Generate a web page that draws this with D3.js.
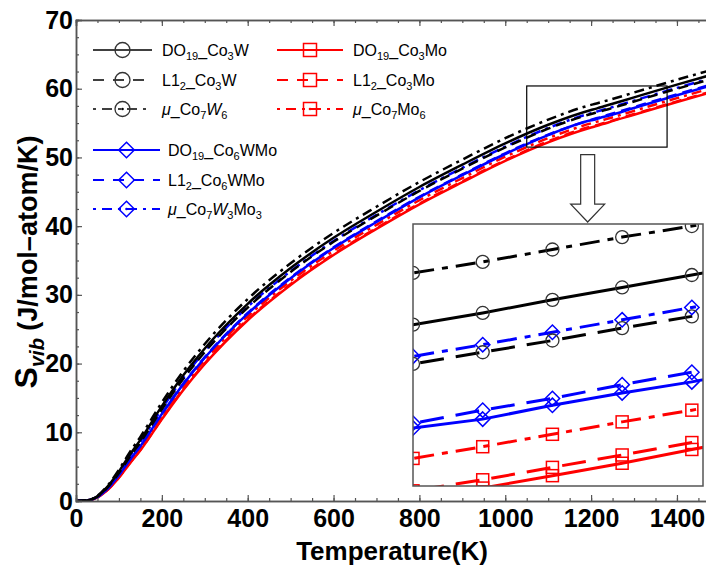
<!DOCTYPE html>
<html lang="en">
<head>
<meta charset="UTF-8"/>
<title>Svib vs Temperature</title>
<script src="https://d3js.org/d3.v7.min.js"></script>
<style>
    body { margin: 0; background: white; }
    text { font-family: "Liberation Sans", Arial, sans-serif; }
</style>
</head>
<body>
<script>
// temperatures (K) and vibrational entropy (J/mol-atom/K)
var temps = [0, 25, 50, 75, 100, 125, 150, 200, 250, 300, 400, 500, 600, 700, 800, 900, 1000, 1100,
             1200, 1210, 1220, 1230, 1240, 1300, 1400, 1470];

var DO19_Co3W   = [0, 0.08, 0.7, 2.2, 4.3, 6.7, 8.9, 13.8, 18.3, 22.2, 28.7, 33.9, 38.3, 42.1, 45.7, 48.95, 52.05, 54.75,
                   56.90, 57.07, 57.26, 57.44, 57.62, 58.74, 60.59, 61.84];
var L12_Co3W    = [0, 0.08, 0.66, 2.08, 4.09, 6.41, 8.55, 13.36, 17.80, 21.67, 28.15, 33.33, 37.72, 41.52, 45.12, 48.36, 51.45, 54.18,
                   56.33, 56.50, 56.67, 56.85, 57.02, 58.14, 59.99, 61.24];
var mu_Co7W6    = [0, 0.08, 0.75, 2.35, 4.56, 7.07, 9.34, 14.35, 18.91, 22.85, 29.39, 34.6, 39.01, 42.82, 46.42, 49.68, 52.8, 55.5,
                   57.65, 57.81, 57.99, 58.17, 58.33, 59.45, 61.30, 62.55];
var DO19_Co3Mo  = [0, 0.07, 0.52, 1.69, 3.38, 5.43, 7.37, 11.89, 16.16, 19.93, 26.3, 31.45, 35.81, 39.6, 43.18, 46.4, 49.5, 52.2,
                   54.35, 54.53, 54.71, 54.89, 55.09, 56.21, 58.06, 59.31];
var L12_Co3Mo   = [0, 0.07, 0.53, 1.71, 3.43, 5.49, 7.44, 11.98, 16.26, 20.04, 26.42, 31.57, 35.93, 39.72, 43.29, 46.52, 49.6, 52.34,
                   54.49, 54.65, 54.83, 55.01, 55.19, 56.31, 58.16, 59.41];
var mu_Co7Mo6   = [0, 0.07, 0.56, 1.81, 3.6, 5.73, 7.73, 12.34, 16.66, 20.46, 26.87, 32.03, 36.4, 40.19, 43.77, 47.0, 50.1, 52.81,
                   54.96, 55.13, 55.31, 55.49, 55.66, 56.78, 58.63, 59.88];
var DO19_Co6WMo = [0, 0.07, 0.59, 1.89, 3.75, 5.94, 7.98, 12.65, 17.01, 20.84, 27.26, 32.43, 36.81, 40.6, 44.19, 47.42, 50.5, 53.25,
                   55.40, 55.53, 55.73, 55.91, 56.07, 57.19, 59.04, 60.29];
var L12_Co6WMo  = [0, 0.07, 0.6, 1.91, 3.79, 5.99, 8.04, 12.73, 17.1, 20.93, 27.36, 32.53, 36.91, 40.7, 44.28, 47.52, 50.6, 53.32,
                   55.47, 55.66, 55.83, 56.03, 56.21, 57.33, 59.18, 60.43];
var mu_Co7W3Mo3 = [0, 0.08, 0.67, 2.11, 4.13, 6.47, 8.62, 13.45, 17.91, 21.78, 28.26, 33.45, 37.84, 41.64, 45.23, 48.48, 51.57, 54.29,
                   56.44, 56.61, 56.79, 56.97, 57.15, 58.27, 60.12, 61.37];

var xTicks = [0, 200, 400, 600, 800, 1000, 1200, 1400];
var yTicks = [0, 10, 20, 30, 40, 50, 60, 70];
var insetTemps = [1200, 1210, 1220, 1230, 1240];
var zoomBox = {t0: 1050, t1: 1377, s0: 51.5, s1: 60.4};

// legend label pieces: [text, style]  ("" normal, "s" subscript, "i" italic)
var lab = {
    DO19_Co3W:   [["DO",""],["19","s"],["_Co",""],["3","s"],["W",""]],
    L12_Co3W:    [["L1",""],["2","s"],["_Co",""],["3","s"],["W",""]],
    mu_Co7W6:    [["\u03bc","i"],["_Co",""],["7","s"],["W","i"],["6","s"]],
    DO19_Co3Mo:  [["DO",""],["19","s"],["_Co",""],["3","s"],["Mo",""]],
    L12_Co3Mo:   [["L1",""],["2","s"],["_Co",""],["3","s"],["Mo",""]],
    mu_Co7Mo6:   [["\u03bc","i"],["_Co",""],["7","s"],["Mo",""],["6","s"]],
    DO19_Co6WMo: [["DO",""],["19","s"],["_Co",""],["6","s"],["WMo",""]],
    L12_Co6WMo:  [["L1",""],["2","s"],["_Co",""],["6","s"],["WMo",""]],
    mu_Co7W3Mo3: [["\u03bc","i"],["_Co",""],["7","s"],["W","i"],["3","s"],["Mo",""],["3","s"]]
};

var series = [
    {key: "DO19_Co3W",   v: DO19_Co3W,   c: "#000", st: "solid", m: "circle",  col: 0, row: 0},
    {key: "L12_Co3W",    v: L12_Co3W,    c: "#000", st: "dash",  m: "circle",  col: 0, row: 1},
    {key: "mu_Co7W6",    v: mu_Co7W6,    c: "#000", st: "dd",    m: "circle",  col: 0, row: 2},
    {key: "DO19_Co3Mo",  v: DO19_Co3Mo,  c: "#f00", st: "solid", m: "square",  col: 1, row: 0},
    {key: "L12_Co3Mo",   v: L12_Co3Mo,   c: "#f00", st: "dash",  m: "square",  col: 1, row: 1},
    {key: "mu_Co7Mo6",   v: mu_Co7Mo6,   c: "#f00", st: "dd",    m: "square",  col: 1, row: 2},
    {key: "DO19_Co6WMo", v: DO19_Co6WMo, c: "#00f", st: "solid", m: "diamond", col: 2, row: 0},
    {key: "L12_Co6WMo",  v: L12_Co6WMo,  c: "#00f", st: "dash",  m: "diamond", col: 2, row: 1},
    {key: "mu_Co7W3Mo3", v: mu_Co7W3Mo3, c: "#00f", st: "dd",    m: "diamond", col: 2, row: 2}
];

var mainDash  = {solid: null, dash: "10,6", dd: "10,5,3,5"};
var insetDash = {solid: null, dash: "24,12", dd: "20,8,6,8"};
var legDash   = {solid: null, dash: "11,9", dd: "3,6,10,6"};

var w = 706, h = 568;
var padL = 76, padR = 707, padT = 20, padB = 501;

var svg = d3.select("body").append("svg")
    .attr("width", w).attr("height", h);

var x = d3.scaleLinear().domain([0, 1470]).range([padL, padR]);
var y = d3.scaleLinear().domain([0, 70]).range([padB, padT]);

svg.append("clipPath").attr("id", "plotclip")
    .append("rect").attr("x", padL).attr("y", padT)
    .attr("width", padR - padL).attr("height", padB - padT);

function pts(s) {
    return temps.map(function(t, i) { return [t, s.v[i]]; });
}

// main curves
var line = d3.line()
    .x(function(d) { return x(d[0]); })
    .y(function(d) { return y(d[1]); })
    .curve(d3.curveMonotoneX);

var order = [3, 4, 5, 6, 7, 8, 0, 1, 2];
var gLines = svg.append("g").attr("clip-path", "url(#plotclip)");
order.forEach(function(i) {
    var s = series[i];
    gLines.append("path")
        .attr("d", line(pts(s)))
        .attr("fill", "none")
        .attr("stroke", s.c)
        .attr("stroke-width", 2.5)
        .attr("stroke-dasharray", mainDash[s.st]);
});

// axes, ticks inward
var axisColor = "#555";
function styleAxis(g) {
    g.select(".domain").attr("stroke", axisColor).attr("stroke-width", 1.5);
    g.selectAll(".tick line").attr("stroke", axisColor).attr("stroke-width", 1.2);
}
var xMinor = d3.range(0, 1470, 50), yMinor = d3.range(0, 70.1, 2.5);

svg.append("g").attr("transform", "translate(0," + padB + ")")
    .call(d3.axisBottom(x).tickValues(xMinor).tickSize(-3).tickFormat(""))
    .call(styleAxis);
svg.append("g").attr("transform", "translate(0," + padT + ")")
    .call(d3.axisTop(x).tickValues(xMinor).tickSize(-3).tickFormat(""))
    .call(styleAxis);
svg.append("g").attr("transform", "translate(" + padL + ",0)")
    .call(d3.axisLeft(y).tickValues(yMinor).tickSize(-3).tickFormat(""))
    .call(styleAxis);

var xa = svg.append("g").attr("transform", "translate(0," + padB + ")")
    .call(d3.axisBottom(x).tickValues(xTicks).tickSize(-6).tickPadding(8).tickFormat(d3.format("d")))
    .call(styleAxis);
var ya = svg.append("g").attr("transform", "translate(" + padL + ",0)")
    .call(d3.axisLeft(y).tickValues(yTicks).tickSize(-6).tickPadding(3))
    .call(styleAxis);
svg.append("g").attr("transform", "translate(0," + padT + ")")
    .call(d3.axisTop(x).tickValues(xTicks).tickSize(-6).tickFormat(""))
    .call(styleAxis);

[xa, ya].forEach(function(g) {
    g.selectAll(".tick text")
        .attr("fill", "#000")
        .style("font-family", "'Liberation Sans', Arial, sans-serif")
        .style("font-size", "25px")
        .style("font-weight", "bold");
});

// axis titles
svg.append("text")
    .attr("x", 392).attr("y", 560)
    .attr("text-anchor", "middle")
    .style("font-size", "26px").style("font-weight", "bold")
    .text("Temperature(K)");

var yt = svg.append("text")
    .attr("transform", "translate(37,262) rotate(-90)")
    .attr("text-anchor", "middle")
    .style("font-size", "27px").style("font-weight", "bold");
yt.append("tspan").style("font-size", "32px").text("S");
yt.append("tspan").attr("dy", 7).style("font-size", "20px").style("font-style", "italic").text("vib");
yt.append("tspan").attr("dy", -7).text(" (J/mol\u2013atom/K)");

// zoom rectangle and arrow
svg.append("rect")
    .attr("x", x(zoomBox.t0)).attr("y", y(zoomBox.s1))
    .attr("width", x(zoomBox.t1) - x(zoomBox.t0))
    .attr("height", y(zoomBox.s0) - y(zoomBox.s1))
    .attr("fill", "none").attr("stroke", "#000").attr("stroke-width", 1.2);

var ax = x(1192), ay0 = y(50.4), ay1 = y(43.2), ay2 = y(40.6);
svg.append("path")
    .attr("d", "M" + (ax - 7) + "," + ay0 + "V" + ay1 + "H" + (ax - 17) + "L" + ax + "," + ay2 +
               "L" + (ax + 17) + "," + ay1 + "H" + (ax + 7) + "V" + ay0 + "Z")
    .attr("fill", "#fff").attr("stroke", "#333").attr("stroke-width", 1.2);

// inset
var ix0 = 413, ix1 = 703, iy0 = 224, iy1 = 486;
var xi = d3.scaleLinear().domain([1200, 1241.6]).range([ix0, ix1]);
var yi = d3.scaleLinear().domain([54.56, 58.36]).range([iy1, iy0]);

svg.append("rect").attr("x", ix0).attr("y", iy0)
    .attr("width", ix1 - ix0).attr("height", iy1 - iy0)
    .attr("fill", "#fff");
svg.append("clipPath").attr("id", "insetclip")
    .append("rect").attr("x", ix0).attr("y", iy0)
    .attr("width", ix1 - ix0).attr("height", iy1 - iy0);

var lineI = d3.line()
    .x(function(d) { return xi(d[0]); })
    .y(function(d) { return yi(d[1]); });

var gi = svg.append("g").attr("clip-path", "url(#insetclip)");

function marker(g, type, cx, cy, size, color) {
    if (type == "circle") {
        g.append("circle").attr("cx", cx).attr("cy", cy).attr("r", size)
            .attr("fill", "none").attr("stroke", "#333").attr("stroke-width", 1.3);
    } else if (type == "square") {
        g.append("rect").attr("x", cx - size).attr("y", cy - size)
            .attr("width", 2 * size).attr("height", 2 * size)
            .attr("fill", "none").attr("stroke", color).attr("stroke-width", 1.5);
    } else {
        var r = size * 1.2;
        g.append("path")
            .attr("d", "M" + cx + "," + (cy - r) + "L" + (cx + r) + "," + cy + "L" + cx + "," + (cy + r) +
                       "L" + (cx - r) + "," + cy + "Z")
            .attr("fill", "none").attr("stroke", color).attr("stroke-width", 1.5);
    }
}

order.forEach(function(i) {
    var s = series[i];
    var p = pts(s).filter(function(d) { return d[0] >= 1100 && d[0] <= 1300; });
    gi.append("path")
        .attr("d", lineI(p))
        .attr("fill", "none")
        .attr("stroke", s.c)
        .attr("stroke-width", 3)
        .attr("stroke-dasharray", insetDash[s.st]);
});
order.forEach(function(i) {
    var s = series[i];
    pts(s).forEach(function(d) {
        if (insetTemps.indexOf(d[0]) >= 0) {
            marker(gi, s.m, xi(d[0]), yi(d[1]), s.m == "circle" ? 6.5 : 6, s.c);
        }
    });
});
svg.append("rect").attr("x", ix0).attr("y", iy0)
    .attr("width", ix1 - ix0).attr("height", iy1 - iy0)
    .attr("fill", "none").attr("stroke", "#555").attr("stroke-width", 1.5);

// legend
var legCols = [
    {x0: 93, x1: 152, tx: 162, rows: [50, 80, 109]},
    {x0: 277, x1: 343, tx: 353, rows: [50, 80, 109]},
    {x0: 93, x1: 160, tx: 168, rows: [150, 180, 209]}
];
var gl = svg.append("g");
series.forEach(function(s) {
    var c = legCols[s.col], ly = c.rows[s.row], mx = (c.x0 + c.x1) / 2;
    gl.append("line").attr("x1", c.x0).attr("x2", c.x1).attr("y1", ly).attr("y2", ly)
        .attr("stroke", s.c).attr("stroke-width", s.c == "#000" ? 1.6 : 2.2)
        .attr("stroke-dasharray", legDash[s.st]);
    marker(gl, s.m, mx, ly, s.m == "circle" ? 7.5 : 6.5, s.c);
    if (s.st == "dd") {
        gl.append("circle").attr("cx", mx).attr("cy", ly).attr("r", 1.3).attr("fill", s.c);
    }
    var t = gl.append("text").attr("x", c.tx).attr("y", ly + 6)
        .style("font-size", "16px").attr("fill", "#000");
    var shift = 0;
    lab[s.key].forEach(function(part) {
        var ts = t.append("tspan").text(part[0]);
        if (part[1] == "s") {
            ts.attr("dy", 4 - shift).style("font-size", "11px");
            shift = 4;
        } else {
            ts.attr("dy", -shift);
            shift = 0;
            if (part[1] == "i") ts.style("font-style", "italic");
        }
    });
});
</script>
</body>
</html>
